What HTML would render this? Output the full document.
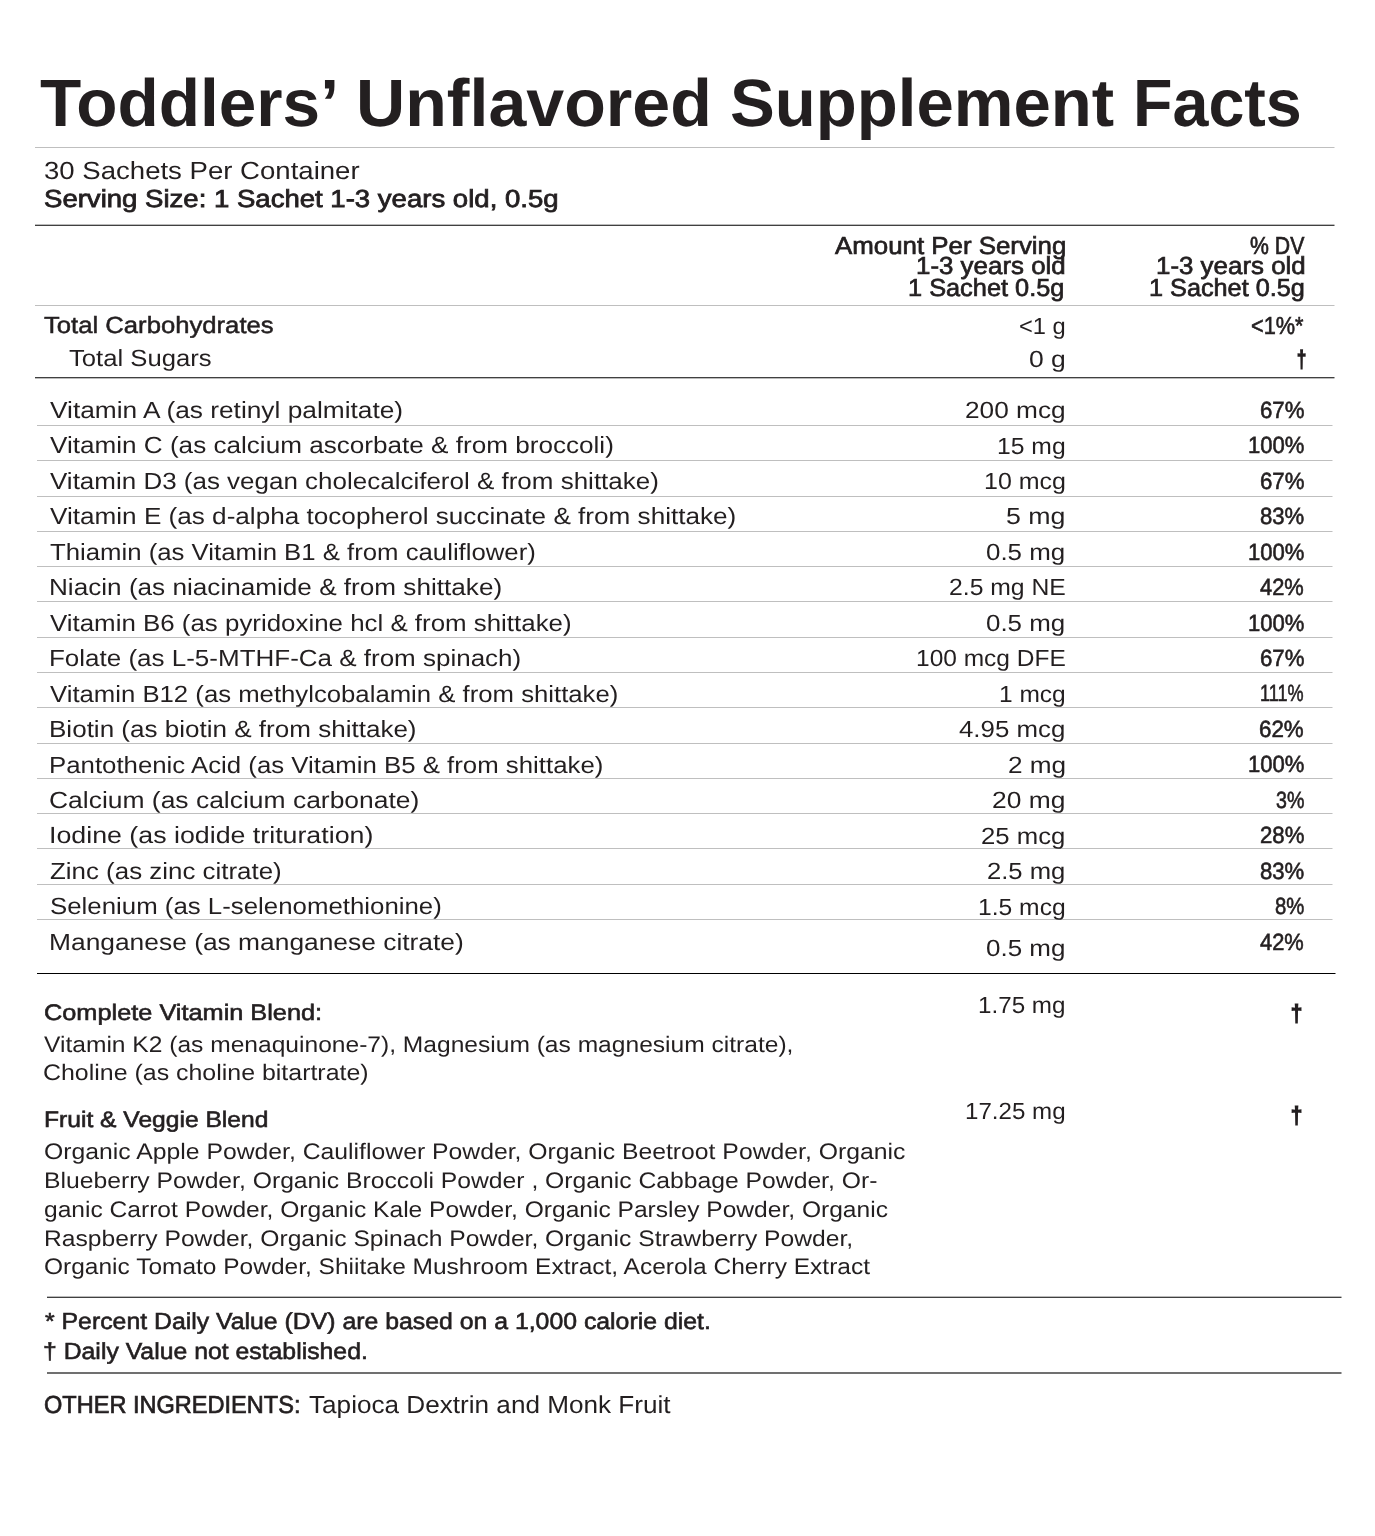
<!DOCTYPE html>
<html lang="en"><head><meta charset="utf-8"><title>Toddlers’ Unflavored Supplement Facts</title>
<style>
html,body{margin:0;padding:0;background:#fff}
body{width:1375px;height:1536px;position:relative;overflow:hidden;font-family:"Liberation Sans",sans-serif;color:#231f20}
.t{position:absolute;white-space:nowrap;transform-origin:0 0;margin:0;padding:0;line-height:1;font-weight:400;display:block;text-rendering:geometricPrecision}
.b{font-weight:700}
h1{margin:0;padding:0;font-size:0;line-height:0;position:absolute;left:0;top:0}
.m{-webkit-text-stroke:0.60px #231f20}
svg{position:absolute;left:0;top:0}
</style></head><body>
<svg width="1375" height="1536" viewBox="0 0 1375 1536"><rect x="35" y="147" width="1299.5" height="1" fill="#bfbfbf"/><rect x="35" y="224.65" width="1299.5" height="1.35" fill="#404040"/><rect x="35" y="305" width="1299.5" height="1" fill="#bfbfbf"/><rect x="35" y="377" width="1299.5" height="1.35" fill="#404040"/><rect x="37" y="973" width="1298.5" height="1" fill="#000000"/><rect x="47" y="1296.65" width="1294.5" height="1.35" fill="#404040"/><rect x="47" y="1372" width="1294.5" height="2" fill="#707070"/><rect x="37" y="425" width="1295.5" height="1" fill="#bfbfbf"/><rect x="37" y="460" width="1295.5" height="1" fill="#bfbfbf"/><rect x="37" y="496" width="1295.5" height="1" fill="#bfbfbf"/><rect x="37" y="531" width="1295.5" height="1" fill="#bfbfbf"/><rect x="37" y="566" width="1295.5" height="1" fill="#bfbfbf"/><rect x="37" y="601" width="1295.5" height="1" fill="#bfbfbf"/><rect x="37" y="637" width="1295.5" height="1" fill="#bfbfbf"/><rect x="37" y="672" width="1295.5" height="1" fill="#bfbfbf"/><rect x="37" y="707" width="1295.5" height="1" fill="#bfbfbf"/><rect x="37" y="743" width="1295.5" height="1" fill="#bfbfbf"/><rect x="37" y="778" width="1295.5" height="1" fill="#bfbfbf"/><rect x="37" y="813" width="1295.5" height="1" fill="#bfbfbf"/><rect x="37" y="848" width="1295.5" height="1" fill="#bfbfbf"/><rect x="37" y="884" width="1295.5" height="1" fill="#bfbfbf"/><rect x="37" y="919" width="1295.5" height="1" fill="#bfbfbf"/></svg>
<h1><span class="t b" style="left:40.49px;top:69.70px;font-size:67px;transform:scaleX(1.0079)">Toddlers’</span> <span class="t b" style="left:355.53px;top:69.70px;font-size:67px;transform:scaleX(1.0167)">Unflavored</span> <span class="t b" style="left:729.80px;top:69.70px;font-size:67px;transform:scaleX(1.0018)">Supplement</span> <span class="t b" style="left:1132.76px;top:69.70px;font-size:67px;transform:scaleX(0.9645)">Facts</span></h1>
<div class="t" style="left:43.89px;top:160.45px;font-size:24.8px;transform:scaleX(1.1115)">30 Sachets Per Container</div>
<div class="t m" style="left:44.16px;top:188.40px;font-size:24.6px;-webkit-text-stroke-width:0.8px;transform:scaleX(1.1202)">Serving Size: 1 Sachet 1-3 years old, 0.5g</div>
<div class="t m" style="left:835.33px;top:234.85px;font-size:24.6px;-webkit-text-stroke-width:0.7px;transform:scaleX(1.0513)">Amount Per Serving</div>
<div class="t m" style="left:915.82px;top:255.40px;font-size:24.6px;-webkit-text-stroke-width:0.7px;transform:scaleX(1.0530)">1-3 years old</div>
<div class="t m" style="left:908.25px;top:276.80px;font-size:24.6px;-webkit-text-stroke-width:0.7px;transform:scaleX(1.0302)">1 Sachet 0.5g</div>
<div class="t m" style="left:1249.57px;top:234.85px;font-size:24.6px;-webkit-text-stroke-width:0.7px;transform:scaleX(0.8637)">% DV</div>
<div class="t m" style="left:1156.12px;top:255.40px;font-size:24.6px;-webkit-text-stroke-width:0.7px;transform:scaleX(1.0530)">1-3 years old</div>
<div class="t m" style="left:1149.16px;top:276.80px;font-size:24.6px;-webkit-text-stroke-width:0.7px;transform:scaleX(1.0268)">1 Sachet 0.5g</div>
<div class="t m" style="left:44.33px;top:313.50px;font-size:23.4px;-webkit-text-stroke-width:0.5px;transform:scaleX(1.0969)">Total Carbohydrates</div>
<div class="t" style="left:68.75px;top:347.30px;font-size:23.4px;transform:scaleX(1.0967)">Total Sugars</div>
<div class="t" style="left:1018.74px;top:314.80px;font-size:23.4px;transform:scaleX(1.0115)">&lt;1 g</div>
<div class="t" style="left:1028.87px;top:347.60px;font-size:23.4px;transform:scaleX(1.1333)">0 g</div>
<div class="t m" style="left:1251.32px;top:314.70px;font-size:24.6px;transform:scaleX(0.8838)">&lt;1%*</div>
<div class="t m" style="left:1297.07px;top:347.65px;font-size:23.4px;-webkit-text-stroke-width:1.7px;transform:scale(0.7043,0.9975)">†</div>
<div class="t" style="left:49.72px;top:398.90px;font-size:23.4px;transform:scaleX(1.1238)">Vitamin A (as retinyl palmitate)</div>
<div class="t" style="left:965.00px;top:399.10px;font-size:23.4px;transform:scaleX(1.1218)">200 mcg</div>
<div class="t m" style="left:1259.55px;top:398.80px;font-size:23.4px;transform:scaleX(0.9503)">67%</div>
<div class="t" style="left:49.72px;top:434.36px;font-size:23.4px;transform:scaleX(1.1160)">Vitamin C (as calcium ascorbate &amp; from broccoli)</div>
<div class="t" style="left:996.95px;top:434.56px;font-size:23.4px;transform:scaleX(1.0559)">15 mg</div>
<div class="t m" style="left:1247.58px;top:434.26px;font-size:23.4px;transform:scaleX(0.9437)">100%</div>
<div class="t" style="left:49.72px;top:469.82px;font-size:23.4px;transform:scaleX(1.1107)">Vitamin D3 (as vegan cholecalciferol &amp; from shittake)</div>
<div class="t" style="left:983.63px;top:470.02px;font-size:23.4px;transform:scaleX(1.0680)">10 mcg</div>
<div class="t m" style="left:1259.55px;top:469.72px;font-size:23.4px;transform:scaleX(0.9503)">67%</div>
<div class="t" style="left:49.72px;top:505.28px;font-size:23.4px;transform:scaleX(1.1168)">Vitamin E (as d-alpha tocopherol succinate &amp; from shittake)</div>
<div class="t" style="left:1006.26px;top:505.48px;font-size:23.4px;transform:scaleX(1.1434)">5 mg</div>
<div class="t m" style="left:1259.79px;top:505.18px;font-size:23.4px;transform:scaleX(0.9451)">83%</div>
<div class="t" style="left:50.05px;top:540.74px;font-size:23.4px;transform:scaleX(1.1003)">Thiamin (as Vitamin B1 &amp; from cauliflower)</div>
<div class="t" style="left:986.49px;top:540.94px;font-size:23.4px;transform:scaleX(1.1072)">0.5 mg</div>
<div class="t m" style="left:1247.58px;top:540.64px;font-size:23.4px;transform:scaleX(0.9437)">100%</div>
<div class="t" style="left:49.07px;top:576.20px;font-size:23.4px;transform:scaleX(1.1172)">Niacin (as niacinamide &amp; from shittake)</div>
<div class="t" style="left:948.88px;top:576.40px;font-size:23.4px;transform:scaleX(1.0577)">2.5 mg NE</div>
<div class="t m" style="left:1260.27px;top:576.10px;font-size:23.4px;transform:scaleX(0.9348)">42%</div>
<div class="t" style="left:49.72px;top:611.66px;font-size:23.4px;transform:scaleX(1.1063)">Vitamin B6 (as pyridoxine hcl &amp; from shittake)</div>
<div class="t" style="left:986.49px;top:611.86px;font-size:23.4px;transform:scaleX(1.1072)">0.5 mg</div>
<div class="t m" style="left:1247.58px;top:611.56px;font-size:23.4px;transform:scaleX(0.9437)">100%</div>
<div class="t" style="left:49.08px;top:647.12px;font-size:23.4px;transform:scaleX(1.1110)">Folate (as L-5-MTHF-Ca &amp; from spinach)</div>
<div class="t" style="left:915.97px;top:647.32px;font-size:23.4px;transform:scaleX(1.0474)">100 mcg DFE</div>
<div class="t m" style="left:1259.55px;top:647.02px;font-size:23.4px;transform:scaleX(0.9503)">67%</div>
<div class="t" style="left:49.73px;top:682.58px;font-size:23.4px;transform:scaleX(1.0993)">Vitamin B12 (as methylcobalamin &amp; from shittake)</div>
<div class="t" style="left:998.77px;top:682.78px;font-size:23.4px;transform:scaleX(1.0479)">1 mcg</div>
<div class="t m" style="left:1260.44px;top:682.48px;font-size:23.4px;transform:scaleX(0.7724)">111%</div>
<div class="t" style="left:49.07px;top:718.04px;font-size:23.4px;transform:scaleX(1.1131)">Biotin (as biotin &amp; from shittake)</div>
<div class="t" style="left:959.35px;top:718.24px;font-size:23.4px;transform:scaleX(1.1045)">4.95 mcg</div>
<div class="t m" style="left:1259.35px;top:717.94px;font-size:23.4px;transform:scaleX(0.9547)">62%</div>
<div class="t" style="left:49.09px;top:753.50px;font-size:23.4px;transform:scaleX(1.1027)">Pantothenic Acid (as Vitamin B5 &amp; from shittake)</div>
<div class="t" style="left:1007.50px;top:753.70px;font-size:23.4px;transform:scaleX(1.1188)">2 mg</div>
<div class="t m" style="left:1247.58px;top:753.40px;font-size:23.4px;transform:scaleX(0.9437)">100%</div>
<div class="t" style="left:48.89px;top:788.96px;font-size:23.4px;transform:scaleX(1.1305)">Calcium (as calcium carbonate)</div>
<div class="t" style="left:992.39px;top:789.16px;font-size:23.4px;transform:scaleX(1.1277)">20 mg</div>
<div class="t m" style="left:1275.58px;top:788.86px;font-size:23.4px;transform:scaleX(0.8397)">3%</div>
<div class="t" style="left:48.73px;top:824.42px;font-size:23.4px;transform:scaleX(1.1442)">Iodine (as iodide trituration)</div>
<div class="t" style="left:981.23px;top:824.62px;font-size:23.4px;transform:scaleX(1.1000)">25 mcg</div>
<div class="t m" style="left:1259.59px;top:824.32px;font-size:23.4px;transform:scaleX(0.9495)">28%</div>
<div class="t" style="left:49.77px;top:859.88px;font-size:23.4px;transform:scaleX(1.1072)">Zinc (as zinc citrate)</div>
<div class="t" style="left:987.33px;top:860.08px;font-size:23.4px;transform:scaleX(1.0953)">2.5 mg</div>
<div class="t m" style="left:1259.79px;top:859.78px;font-size:23.4px;transform:scaleX(0.9451)">83%</div>
<div class="t" style="left:49.62px;top:895.34px;font-size:23.4px;transform:scaleX(1.1038)">Selenium (as L-selenomethionine)</div>
<div class="t" style="left:977.86px;top:895.54px;font-size:23.4px;transform:scaleX(1.0537)">1.5 mcg</div>
<div class="t m" style="left:1274.65px;top:895.24px;font-size:23.4px;transform:scaleX(0.8677)">8%</div>
<div class="t" style="left:49.05px;top:931.30px;font-size:23.4px;transform:scaleX(1.1273)">Manganese (as manganese citrate)</div>
<div class="t" style="left:986.19px;top:937.20px;font-size:23.4px;transform:scaleX(1.1116)">0.5 mg</div>
<div class="t m" style="left:1260.27px;top:931.20px;font-size:23.4px;transform:scaleX(0.9348)">42%</div>
<div class="t m" style="left:43.85px;top:1002.20px;font-size:22.4px;transform:scaleX(1.1306)">Complete Vitamin Blend:</div>
<div class="t" style="left:44.43px;top:1033.50px;font-size:22.4px;transform:scaleX(1.0976)">Vitamin K2 (as menaquinone-7), Magnesium (as magnesium citrate),</div>
<div class="t" style="left:43.31px;top:1062.40px;font-size:22.4px;transform:scaleX(1.1134)">Choline (as choline bitartrate)</div>
<div class="t" style="left:977.99px;top:993.90px;font-size:23.4px;transform:scaleX(1.0351)">1.75 mg</div>
<div class="t m" style="left:1290.76px;top:1002.37px;font-size:23.4px;-webkit-text-stroke-width:1.7px;transform:scale(0.8522,0.9877)">†</div>
<div class="t m" style="left:44.15px;top:1109.30px;font-size:22.4px;transform:scaleX(1.0993)">Fruit &amp; Veggie Blend</div>
<div class="t" style="left:964.90px;top:1100.00px;font-size:23.4px;transform:scaleX(1.0313)">17.25 mg</div>
<div class="t m" style="left:1290.76px;top:1104.27px;font-size:23.4px;-webkit-text-stroke-width:1.7px;transform:scale(0.8522,0.9877)">†</div>
<div class="t" style="left:43.99px;top:1141.40px;font-size:22.4px;transform:scaleX(1.1056)">Organic Apple Powder, Cauliflower Powder, Organic Beetroot Powder, Organic</div>
<div class="t" style="left:44.07px;top:1170.12px;font-size:22.4px;transform:scaleX(1.1032)">Blueberry Powder, Organic Broccoli Powder , Organic Cabbage Powder, Or-</div>
<div class="t" style="left:44.00px;top:1198.84px;font-size:22.4px;transform:scaleX(1.0973)">ganic Carrot Powder, Organic Kale Powder, Organic Parsley Powder, Organic</div>
<div class="t" style="left:44.07px;top:1227.56px;font-size:22.4px;transform:scaleX(1.1001)">Raspberry Powder, Organic Spinach Powder, Organic Strawberry Powder,</div>
<div class="t" style="left:44.01px;top:1256.28px;font-size:22.4px;transform:scaleX(1.0941)">Organic Tomato Powder, Shiitake Mushroom Extract, Acerola Cherry Extract</div>
<div class="t m" style="left:44.60px;top:1310.20px;font-size:23.2px;transform:scaleX(1.0702)">* Percent Daily Value (DV) are based on a 1,000 calorie diet.</div>
<div class="t m" style="left:43.26px;top:1339.50px;font-size:23.2px;transform:scaleX(1.0693)">† Daily Value not established.</div>
<div class="t m" style="left:44.28px;top:1394.10px;font-size:24.6px;-webkit-text-stroke-width:0.7px;transform:scaleX(0.9576)">OTHER INGREDIENTS:</div>
<div class="t" style="left:308.67px;top:1394.40px;font-size:24.6px;transform:scaleX(1.0625)">Tapioca Dextrin and Monk Fruit</div>
</body></html>
